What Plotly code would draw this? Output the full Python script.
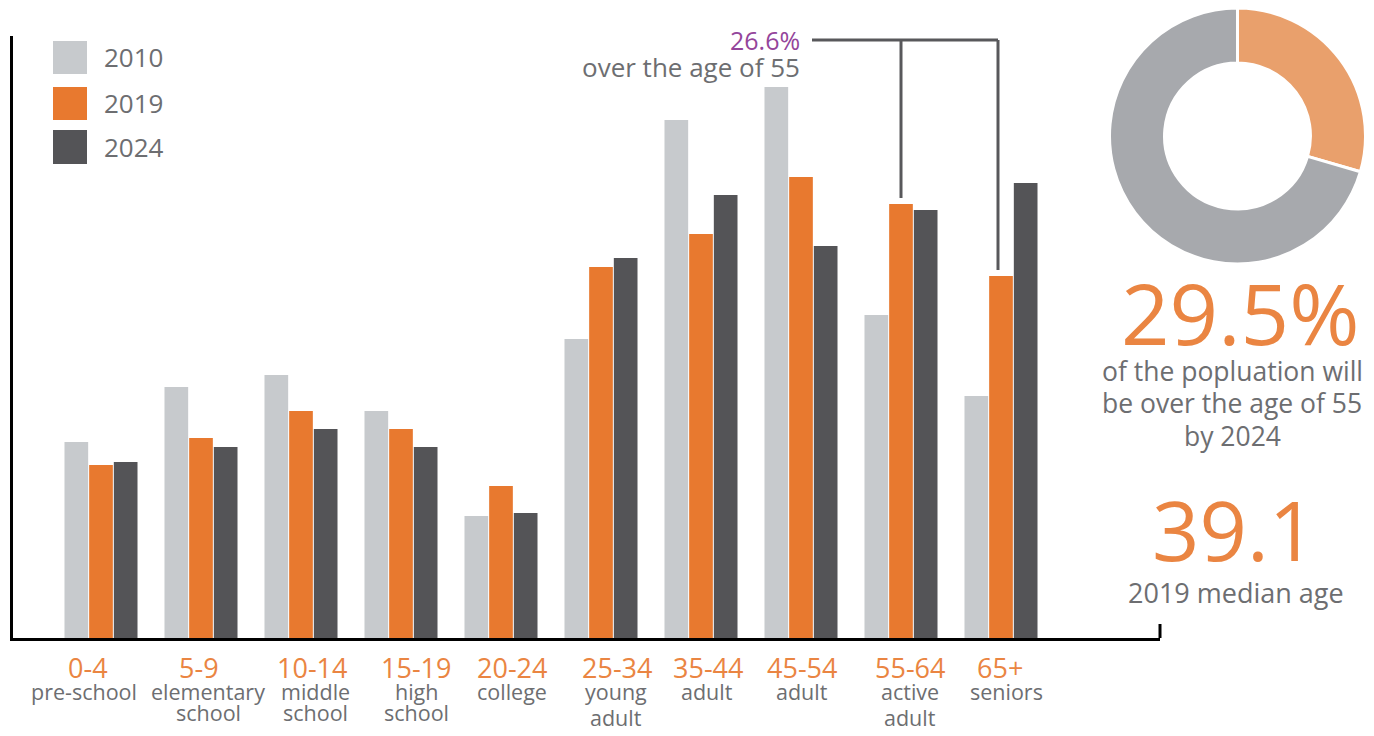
import plotly.graph_objects as go

# ---------------- data ----------------
age_ranges = ["0-4", "5-9", "10-14", "15-19", "20-24", "25-34", "35-44", "45-54", "55-64", "65+"]
age_labels_1 = ["pre-school", "elementary", "middle", "high", "college", "young", "adult", "adult", "active", "seniors"]
age_labels_2 = ["", "school", "school", "school", "", "adult", "", "", "adult", ""]
series_names = ["2010", "2019", "2024"]
values_2010 = [196, 251, 263, 227, 122, 299, 518, 551, 323, 242]
values_2019 = [173, 200, 227, 209, 152, 371, 404, 461, 434, 362]
values_2024 = [176, 191, 209, 191, 125, 380, 443, 392, 428, 455]
donut_labels = ["over 55", "under 55"]
donut_values = [29.5, 70.5]
callout_pct = "26.6%"
big_pct = "29.5%"
median_age = "39.1"

# ---------------- styles ----------------
# page body has an 8px margin, so the figure is drawn 8px in from the window edge
OFF = 8
W, H = 1366, 728
C2010, C2019, C2024 = "#C7CACD", "#E8792F", "#545457"
ORANGE_TXT = "#EA8542"
GRAY_TXT = "#6D6E71"
PURPLE = "#94459B"
FONT = "Open Sans"
# small horizontal nudges of the label text (in category units) as in the original artwork
range_dx = [-0.13, -0.02, 0.11, 0.15, 0.11, 0.16, 0.07, 0.01, 0.09, -0.01]
sub_dx = [-0.17, 0.07, 0.14, 0.15, 0.11, 0.15, 0.06, 0.01, 0.09, 0.05]


def py(px):
    return min(1.0, max(0.0, 1 - (px - OFF) / H))


def pxx(px):
    return min(1.0, max(0.0, (px - OFF) / W))


fig = go.Figure()
for name, vals, col in zip(series_names, [values_2010, values_2019, values_2024], [C2010, C2019, C2024]):
    fig.add_trace(go.Bar(x=age_ranges, y=vals, name=name, marker=dict(color=col, line=dict(width=0)),
                         showlegend=False, hoverinfo="x+y+name"))

fig.add_trace(go.Pie(values=donut_values, labels=donut_labels, hole=0.57, sort=False, direction="clockwise",
                     rotation=0, marker=dict(colors=["#E9A06C", "#A7A9AD"], line=dict(color="white", width=3)),
                     textinfo="none", showlegend=False,
                     domain=dict(x=[pxx(1109), pxx(1366)], y=[py(264), py(8)])))

annotations = []
shapes = []

# x labels
for i, (r, l1, l2) in enumerate(zip(age_ranges, age_labels_1, age_labels_2)):
    annotations.append(dict(x=i + range_dx[i], xref="x", y=py(667), yref="paper", text=r, showarrow=False,
                            font=dict(family=FONT, size=27, color=ORANGE_TXT), xanchor="center", yanchor="middle"))
    annotations.append(dict(x=i + sub_dx[i], xref="x", y=py(691), yref="paper", text=l1, showarrow=False,
                            font=dict(family=FONT, size=21.5, color=GRAY_TXT), xanchor="center", yanchor="middle"))
    if l2:
        y2 = 712 if l2 == "school" else 717
        annotations.append(dict(x=i + sub_dx[i], xref="x", y=py(y2), yref="paper", text=l2, showarrow=False,
                                font=dict(family=FONT, size=21.5, color=GRAY_TXT), xanchor="center", yanchor="middle"))

# legend (custom squares)
leg_y = [(41, 74), (87, 120), (130, 164)]
for name, col, (y0, y1) in zip(series_names, [C2010, C2019, C2024], leg_y):
    shapes.append(dict(type="rect", xref="paper", yref="paper", x0=pxx(53), x1=pxx(87), y0=py(y1), y1=py(y0),
                       fillcolor=col, line=dict(width=0)))
    annotations.append(dict(x=pxx(102), y=py((y0 + y1) / 2), xref="paper", yref="paper", text=name, showarrow=False,
                            xanchor="left", yanchor="middle", font=dict(family=FONT, size=26, color=GRAY_TXT)))

# callout
annotations.append(dict(x=pxx(802), y=py(40), xref="paper", yref="paper", text=callout_pct, showarrow=False,
                        xanchor="right", yanchor="middle", font=dict(family=FONT, size=25, color=PURPLE)))
annotations.append(dict(x=pxx(802), y=py(67), xref="paper", yref="paper", text="over the age of 55", showarrow=False,
                        xanchor="right", yanchor="middle", font=dict(family=FONT, size=26, color=GRAY_TXT)))
LINE_C = "#58585B"
top_y = 598
shapes.append(dict(type="line", xref="x", yref="y", x0=7.11, x1=8.97, y0=top_y, y1=top_y,
                   line=dict(color=LINE_C, width=3)))
shapes.append(dict(type="line", xref="x", yref="y", x0=8.0, x1=8.0, y0=top_y, y1=values_2019[8] + 6,
                   line=dict(color=LINE_C, width=3)))
shapes.append(dict(type="line", xref="x", yref="y", x0=8.97, x1=8.97, y0=top_y, y1=values_2019[9] + 6,
                   line=dict(color=LINE_C, width=3)))

# right-side texts
annotations.append(dict(x=pxx(1240), y=py(312), xref="paper", yref="paper", text=big_pct, showarrow=False,
                        xanchor="center", yanchor="middle", font=dict(family=FONT, size=85, color=ORANGE_TXT)))
for txt, yy in [("of the popluation will", 371), ("be over the age of 55", 403), ("by 2024", 436)]:
    annotations.append(dict(x=pxx(1232), y=py(yy), xref="paper", yref="paper", text=txt, showarrow=False,
                            xanchor="center", yanchor="middle", font=dict(family=FONT, size=26.5, color=GRAY_TXT)))
annotations.append(dict(x=pxx(1234), y=py(528), xref="paper", yref="paper", text=median_age, showarrow=False,
                        xanchor="center", yanchor="middle", font=dict(family=FONT, size=83, color=ORANGE_TXT)))
annotations.append(dict(x=pxx(1236), y=py(592), xref="paper", yref="paper", text="2019 median age", showarrow=False,
                        xanchor="center", yanchor="middle", font=dict(family=FONT, size=27, color=GRAY_TXT)))

# right end tick of baseline
shapes.append(dict(type="line", xref="paper", yref="paper", x0=pxx(1160), x1=pxx(1160), y0=py(638), y1=py(624),
                   line=dict(color="black", width=3)))

fig.update_layout(
    width=W, height=H, autosize=False,
    margin=dict(l=0, r=0, t=0, b=0),
    paper_bgcolor="white", plot_bgcolor="white",
    barmode="group", bargap=0.26, bargroupgap=0.04,
    xaxis=dict(domain=[pxx(13), pxx(1160)], range=[-0.88, 10.59], showticklabels=False, ticks="",
               showgrid=False, zeroline=False, showline=True, linecolor="black", linewidth=3, anchor="y"),
    yaxis=dict(domain=[py(638), py(36)], range=[0, 602], showticklabels=False, ticks="",
               showgrid=False, zeroline=False, showline=True, linecolor="black", linewidth=3, anchor="x"),
    annotations=annotations, shapes=shapes,
    font=dict(family=FONT),
)

fig.write_html("out.html")
